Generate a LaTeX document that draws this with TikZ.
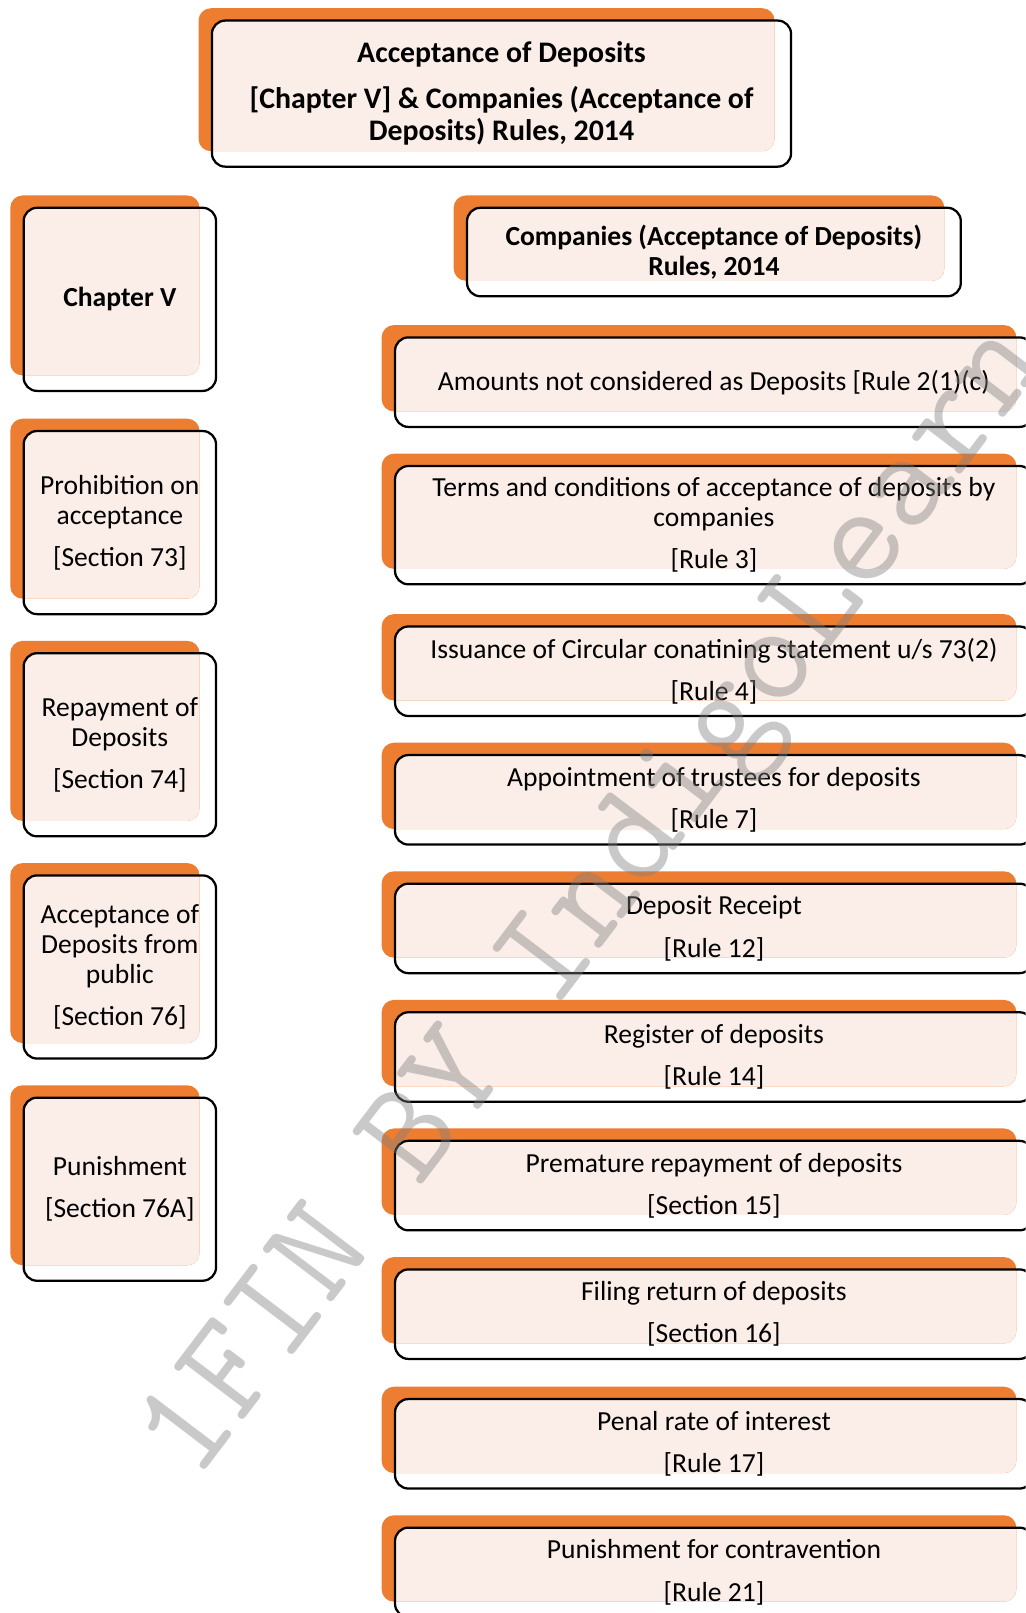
\documentclass[tikz,border=0pt]{standalone}
\usepackage{fontspec}
\setmainfont{Carlito}
\usetikzlibrary{backgrounds}
\definecolor{accent}{HTML}{ED7D31}
\definecolor{cardfill}{HTML}{FBEEE8}
\definecolor{linkgray}{HTML}{262626}

\tikzset{
  backbox/.style={fill=accent, draw=none, rounded corners=12pt, inner sep=0pt, outer sep=0pt},
  frame/.style={draw=black, line width=2.2pt, rounded corners=13pt, inner sep=0pt, outer sep=0pt,
    align=center, text=black, font=\fontsize{26.8}{29}\selectfont},
  boldframe/.style={frame, font=\fontsize{26.8}{29}\selectfont\bfseries},
  titleframe/.style={frame, font=\fontsize{29}{31}\selectfont\bfseries},
  conn/.style={draw=linkgray, line width=1.2pt},
  link/.style={draw=linkgray, line width=1.6pt},
  olink/.style={draw=accent, line width=1.8pt},
  watermark/.style={text=gray, opacity=0.42, inner sep=0pt,
    font=\ttfamily\fontsize{140}{140}\selectfont}
}

% A card: orange back panel, tinted face clipped to it, and an outlined frame holding the text.
% #1 name, #2-#5 back panel corners (x0,y0,x1,y1), #6 frame style, #7 text
\newcommand\dcard[7]{%
  \pgfmathsetmacro\bw{#4-#2}\pgfmathsetmacro\bh{#5-#3}%
  \pgfmathsetmacro\bx{(#2+#4)/2}\pgfmathsetmacro\by{(#3+#5)/2}%
  \pgfmathsetmacro\fxa{#2+13}\pgfmathsetmacro\fya{#3+12}%
  \pgfmathsetmacro\fxb{#4+16}\pgfmathsetmacro\fyb{#5+15}%
  \pgfmathsetmacro\fw{\fxb-\fxa}\pgfmathsetmacro\fh{\fyb-\fya}%
  \pgfmathsetmacro\fcx{(\fxa+\fxb)/2}\pgfmathsetmacro\fcy{(\fya+\fyb)/2}%
  \node[backbox, minimum width=\bw pt, minimum height=\bh pt] (#1-bg) at (\bx,\by) {};
  \begin{scope}
    \clip[rounded corners=12pt] (#2,#3) rectangle (#4,#5);
    \fill[cardfill, rounded corners=13pt] (\fxa,\fya) rectangle (\fxb,\fyb);
  \end{scope}
  \node[#6, minimum width=\fw pt, minimum height=\fh pt] (#1) at (\fcx,\fcy) {#7};
}

\begin{document}
\begin{tikzpicture}[x=1pt, y=-1pt]
  \clip (0,0) rectangle (997,1568);
  \fill[white] (0,0) rectangle (997,1568);

  % title
  \dcard{top}{193}{8}{753}{147}{titleframe}{Acceptance of Deposits\\[14pt][Chapter V] \& Companies (Acceptance of\\Deposits) Rules, 2014}

  % left column: Chapter V of the Act
  \dcard{ch}{10}{190}{194}{365}{boldframe}{Chapter V}
  \dcard{pr}{10}{407}{194}{582}{frame}{Prohibition on\\acceptance\\[12pt][Section 73]}
  \dcard{rp}{10}{623}{194}{798}{frame}{Repayment of\\Deposits\\[12pt][Section 74]}
  \dcard{ac}{10}{839}{194}{1014}{frame}{Acceptance of\\Deposits from\\public\\[12pt][Section 76]}
  \dcard{pu}{10}{1055}{194}{1230}{frame}{Punishment\\[12pt][Section 76A]}

  % right column: the Rules
  \dcard{co}{441}{190}{918}{273}{boldframe}{Companies (Acceptance of Deposits)\\Rules, 2014}
  \dcard{r1}{371}{316}{988}{400}{frame}{Amounts not considered as Deposits [Rule 2(1)(c)}
  \dcard{r2}{371}{441}{988}{553}{frame}{Terms and conditions of acceptance of deposits by\\companies\\[12pt][Rule 3]}
  \dcard{r3}{371}{597}{988}{681}{frame}{Issuance of Circular conatining statement u/s 73(2)\\[12pt][Rule 4]}
  \dcard{r4}{371}{722}{988}{806}{frame}{Appointment of trustees for deposits\\[12pt][Rule 7]}
  \dcard{r5}{371}{847}{988}{931}{frame}{Deposit Receipt\\[12pt][Rule 12]}
  \dcard{r6}{371}{972}{988}{1056}{frame}{Register of deposits\\[12pt][Rule 14]}
  \dcard{r7}{371}{1097}{988}{1181}{frame}{Premature repayment of deposits\\[12pt][Section 15]}
  \dcard{r8}{371}{1222}{988}{1306}{frame}{Filing return of deposits\\[12pt][Section 16]}
  \dcard{r9}{371}{1348}{988}{1432}{frame}{Penal rate of interest\\[12pt][Rule 17]}
  \dcard{r10}{371}{1473}{988}{1557}{frame}{Punishment for contravention\\[12pt][Rule 21]}

  % connectors run behind the cards
  \begin{pgfonlayer}{background}
    \coordinate (hub) at (473,177);
    \draw[conn] (top-bg.center) -- (hub) -| (ch-bg.center);
    \draw[conn] (hub) -| (co-bg.center);
    \draw[link] (ch-bg.center) -- (pr-bg.center);
    \draw[olink] (pr-bg.center) -- (rp-bg.center);
    \draw[olink] (rp-bg.center) -- (ac-bg.center);
    \draw[link] (ac-bg.center) -- (pu-bg.center);
    \draw[link] (co-bg.center) -- (r1-bg.center);
    \foreach \a/\b in {r1/r2, r2/r3, r3/r4, r4/r5, r5/r6, r6/r7, r7/r8, r8/r9, r9/r10}
      \draw[link] (\a-bg.center) -- (\b-bg.center);
  \end{pgfonlayer}

  % diagonal mark across the page
  \node[watermark, rotate=52.8] (wm) at (582,880) {1FIN BY IndigoLearn};
\end{tikzpicture}
\end{document}
